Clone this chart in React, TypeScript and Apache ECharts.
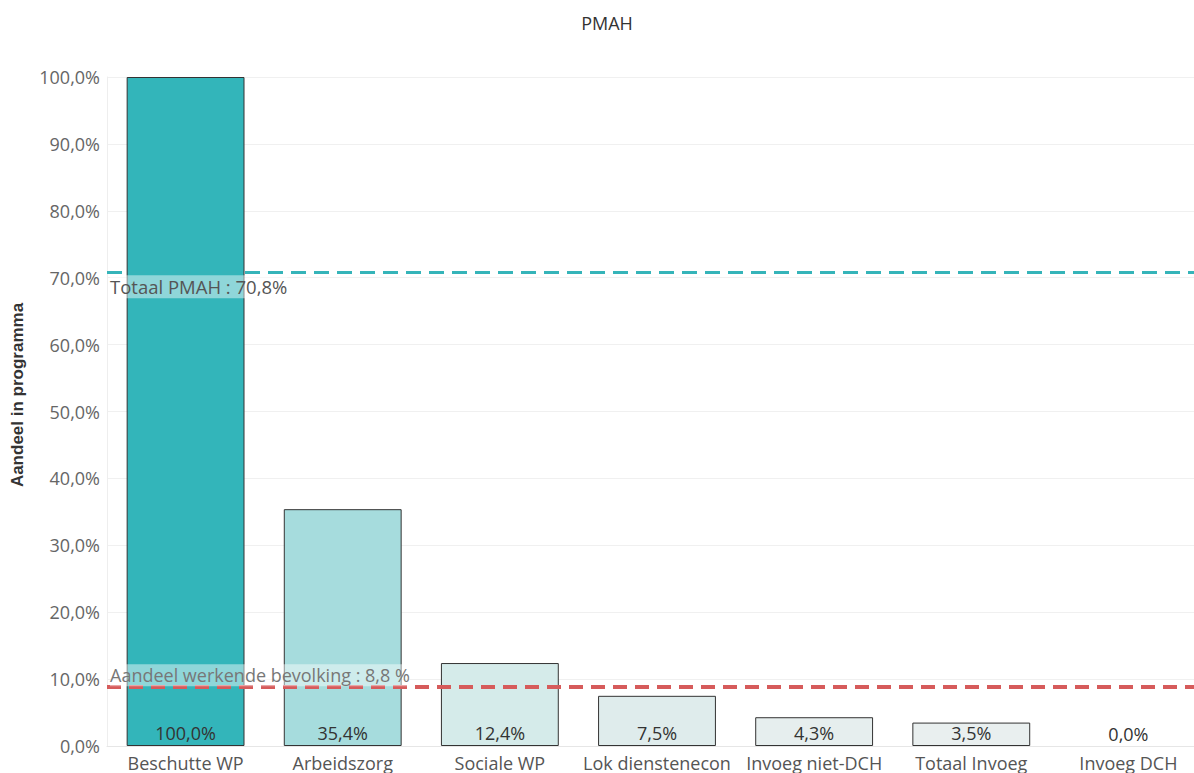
import React, { useEffect, useRef } from "react";
import * as echarts from "echarts";

const categories = ["Beschutte WP", "Arbeidszorg", "Sociale WP", "Lok dienstenecon", "Invoeg niet-DCH", "Totaal Invoeg", "Invoeg DCH"];
const values = [100.0, 35.4, 12.4, 7.5, 4.3, 3.5, 0.0];
const barColors = ["#33b5ba", "#a6dcdd", "#d5ebea", "#dfecec", "#e6eeee", "#e9efef", "#eef1f1"];
const refTotal = 70.8;
const refTotalLabel = "Totaal PMAH : 70,8%";
const refWorking = 8.8;
const refWorkingLabel = "Aandeel werkende bevolking : 8,8 %";
const yTicks = [0, 10, 20, 30, 40, 50, 60, 70, 80, 90, 100];

const fmt = (v: number) => v.toFixed(1).replace(".", ",") + "%";
const FONT = "'Open Sans', 'Noto Sans', sans-serif";

export default function App() {
  const ref = useRef<HTMLDivElement>(null);
  useEffect(() => {
    document.body.style.margin = "0";
    document.body.style.overflow = "hidden";
    const chart = echarts.init(ref.current!, undefined, { renderer: "svg" });
    chart.setOption({
      animation: false,
      textStyle: { fontFamily: FONT },
      title: {
        text: "PMAH",
        left: 602,
        textAlign: "center",
        top: 9,
        textStyle: { fontSize: 18, fontWeight: "normal", color: "#333", fontFamily: FONT },
      },
      grid: { left: 107, right: 0, top: 77, bottom: 27 },
      xAxis: {
        type: "category",
        data: categories,
        axisTick: { show: false },
        axisLine: { lineStyle: { color: "#e6e6e6" } },
        axisLabel: { fontSize: 18, color: "#555", margin: 8, interval: 0, fontFamily: FONT },
      },
      yAxis: {
        type: "value",
        min: yTicks[0],
        max: yTicks[yTicks.length - 1],
        interval: 10,
        name: "Aandeel in programma",
        nameLocation: "middle",
        nameRotate: 90,
        nameGap: 81,
        nameTextStyle: { fontSize: 17, fontWeight: "bold", color: "#333", padding: [0, 0, 0, 33], fontFamily: "'Liberation Sans', Arial, sans-serif" },
        axisLine: { show: true, lineStyle: { color: "#eeeeee" } },
        axisTick: { show: false },
        axisLabel: { fontSize: 18, color: "#666", margin: 7, formatter: (v: number) => fmt(v), fontFamily: FONT },
        splitLine: { lineStyle: { color: "#f0f0f0" } },
      },
      series: [
        {
          type: "bar",
          barWidth: "75%",
          data: values.map((v, i) => ({
            value: v,
            itemStyle: { color: barColors[i], borderColor: v > 0 ? "#333" : "transparent", borderWidth: 1 },
          })),
          label: {
            show: true,
            position: "insideBottom",
            distance: 4,
            fontSize: 18,
            color: "#333",
            fontFamily: FONT,
            formatter: (p: any) => fmt(p.value),
          },
          markLine: {
            silent: true,
            symbol: "none",
            data: [
              {
                yAxis: refTotal,
                lineStyle: { color: "#35b4b9", width: 3, type: [15, 8] },
                label: {
                  show: true,
                  position: "insideStartBottom",
                  distance: [3, 3],
                  formatter: refTotalLabel,
                  fontSize: 18.5,
                  color: "#555",
                  fontFamily: FONT,
                  backgroundColor: "rgba(255,255,255,0.45)",
                  padding: [2, 0, 2, 0],
                },
              },
              {
                yAxis: refWorking,
                lineStyle: { color: "#d65b5b", width: 4, type: [14, 8] },
                label: {
                  show: true,
                  position: "insideStartTop",
                  distance: [3, 1],
                  formatter: refWorkingLabel,
                  fontSize: 18,
                  color: "#777",
                  fontFamily: FONT,
                  backgroundColor: "rgba(255,255,255,0.45)",
                  padding: [2, 0, 2, 0],
                },
              },
            ],
          },
        },
      ],
    });
    return () => chart.dispose();
  }, []);
  return <div ref={ref} style={{ width: 1207, height: 773 }} />;
}
